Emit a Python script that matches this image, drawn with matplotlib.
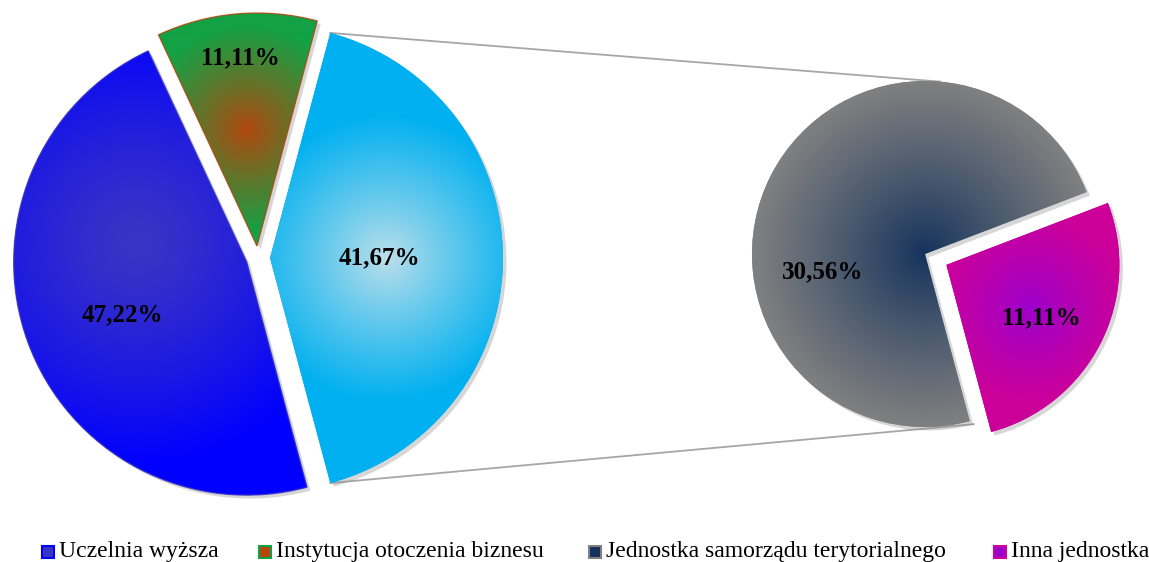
import numpy as np
import matplotlib
matplotlib.use("Agg")
import matplotlib.pyplot as plt
from matplotlib.patches import Wedge, Rectangle
from matplotlib.colors import to_rgb
import matplotlib.patheffects as pe

# ---------------- data ----------------
categories = ["Uczelnia wyższa", "Instytucja otoczenia biznesu",
              "Jednostka samorządu terytorialnego", "Inna jednostka"]
main_values = [47.22, 11.11]          # shown in the first pie
secondary_values = [30.56, 11.11]     # split out into the second pie
other_value = round(sum(secondary_values), 2)   # 41,67 %

# colours: (gradient centre, gradient edge)
col_uczelnia = ("#3a34c4", "#0000ff")
col_iob = ("#b4460e", "#12a245")
col_other = ("#bfe0ea", "#00b0f0")
col_jst = ("#14325c", "#808080")
col_inna = ("#9c00cc", "#cc0099")

W, H = 1149, 562
plt.rcParams["font.family"] = ["Liberation Serif", "DejaVu Serif"]

fig = plt.figure(figsize=(W / 100, H / 100), dpi=100)
ax = fig.add_axes([0, 0, 1, 1])
ax.set_xlim(0, W)
ax.set_ylim(0, H)
ax.set_autoscale_on(False)
ax.axis("off")


def fmt(v):
    return f"{v:.2f}".replace(".", ",") + "%"


def grad_wedge(center, r, t1, t2, cols, gfrac, gR, outline=False, gang=0.0, power=0.9):
    cin, cout = np.array(to_rgb(cols[0])), np.array(to_rgb(cols[1]))
    w = Wedge(center, r, t1, t2, facecolor=cols[1], edgecolor="none", zorder=2)
    w.set_path_effects([pe.SimplePatchShadow(offset=(2.5, -2.5), shadow_rgbFace=(0.55, 0.55, 0.55),
                                             alpha=0.35), pe.Normal()])
    ax.add_patch(w)
    mid = np.deg2rad((t1 + t2) / 2 + gang)
    gx = center[0] + gfrac * r * np.cos(mid)
    gy = center[1] + gfrac * r * np.sin(mid)
    x0, x1 = center[0] - r - 2, center[0] + r + 2
    y0, y1 = center[1] - r - 2, center[1] + r + 2
    n = int(2 * r + 4)
    X, Y = np.meshgrid(np.linspace(x0, x1, n), np.linspace(y0, y1, n))
    t = np.clip(np.hypot(X - gx, Y - gy) / gR, 0, 1) ** power
    img = (1 - t)[..., None] * cin + t[..., None] * cout
    im = ax.imshow(img, extent=(x0, x1, y0, y1), origin="lower", zorder=3,
                   interpolation="bilinear")
    im.set_clip_path(w)
    if outline:
        ax.add_patch(Wedge(center, r, t1, t2, facecolor="none", edgecolor=cols[0],
                           lw=1.0, alpha=0.8, zorder=4))
    return w


def label(center, r, ang, frac, text):
    a = np.deg2rad(ang)
    ax.text(center[0] + frac * r * np.cos(a), center[1] + frac * r * np.sin(a), text,
            ha="center", va="center", fontsize=18, fontweight="bold", color="black", zorder=6)


# ---------------- first pie ----------------
C1 = np.array([258.0, 304.0])
R1 = 233.0
E1 = 12.0
start = -other_value / 100 * 360 / 2

# value, colours, gradient pos frac, gradient radius frac, gradient angle offset, power,
# label angle offset, label radius frac
left_items = [(other_value, col_other, 0.5, 0.62, 0.0, 0.9, 0.0, 0.47),
              (main_values[1], col_iob, 0.5, 0.45, 0.0, 0.9, 0.0, 0.81),
              (main_values[0], col_uczelnia, 0.48, 0.95, -30.0, 1.3, 3.0, 0.58)]
ang = start
apices = []
for i, (v, cols, gfrac, gRf, gang, pw, ldelta, lfrac) in enumerate(left_items):
    span = v / 100 * 360
    mid = ang + span / 2
    apex = C1 + E1 * np.array([np.cos(np.deg2rad(mid)), np.sin(np.deg2rad(mid))])
    grad_wedge(apex, R1, ang, ang + span, cols, gfrac, gRf * R1, outline=(i > 0),
               gang=gang, power=pw)
    label(apex, R1, mid + ldelta, lfrac, fmt(v))
    apices.append((apex, ang, ang + span))
    ang += span

# ---------------- second pie ----------------
C2 = np.array([925.0, 308.0])
R2 = 173.0
E2 = 24.0
sec_total = sum(secondary_values)
inna_span = secondary_values[1] / sec_total * 360
jst_span = secondary_values[0] / sec_total * 360

# Inna jednostka (exploded)
mid_inna = start + inna_span / 2
apex_inna = C2 + E2 * np.array([np.cos(np.deg2rad(mid_inna)), np.sin(np.deg2rad(mid_inna))])
grad_wedge(apex_inna, R2, start, start + inna_span, col_inna, 0.55, 0.55 * R2)
label(apex_inna, R2, mid_inna - 2, 0.63, fmt(secondary_values[1]))

# Jednostka samorządu terytorialnego
jst_a1 = start + inna_span
jst_a2 = jst_a1 + jst_span
grad_wedge(C2, R2, jst_a1, jst_a2, col_jst, 0.0, R2)
label(C2, R2, (jst_a1 + jst_a2) / 2 + 37, 0.6, fmt(secondary_values[0]))

# ---------------- connector lines ----------------
o_apex, o_a1, o_a2 = apices[0]
p_top = o_apex + R1 * np.array([np.cos(np.deg2rad(o_a2)), np.sin(np.deg2rad(o_a2))])
p_bot = o_apex + R1 * np.array([np.cos(np.deg2rad(o_a1)), np.sin(np.deg2rad(o_a1))])
q_top = C2 + R2 * np.array([np.cos(np.deg2rad(85)), np.sin(np.deg2rad(85))])
q_bot = C2 + (R2 + 4) * np.array([np.cos(np.deg2rad(jst_a2 + 1)), np.sin(np.deg2rad(jst_a2 + 1))])
ax.plot([p_top[0], q_top[0]], [p_top[1], q_top[1]], color="#a6a6a6", lw=1.3, zorder=1)
ax.plot([p_bot[0], q_bot[0]], [p_bot[1], q_bot[1]], color="#a6a6a6", lw=1.3, zorder=1)

# ---------------- legend ----------------
legend_cols = [col_uczelnia, col_iob, col_jst, col_inna]
legend_x = [42, 259, 589, 994]
for name, cols, x in zip(categories, legend_cols, legend_x):
    ax.add_patch(Rectangle((x, 4.5), 12, 12, facecolor=cols[0], edgecolor=cols[1], lw=1.5, zorder=5))
    ax.text(x + 17, 4.5, name, ha="left", va="baseline", fontsize=17, color="black", zorder=5)

fig.savefig("out.png", dpi=100)
